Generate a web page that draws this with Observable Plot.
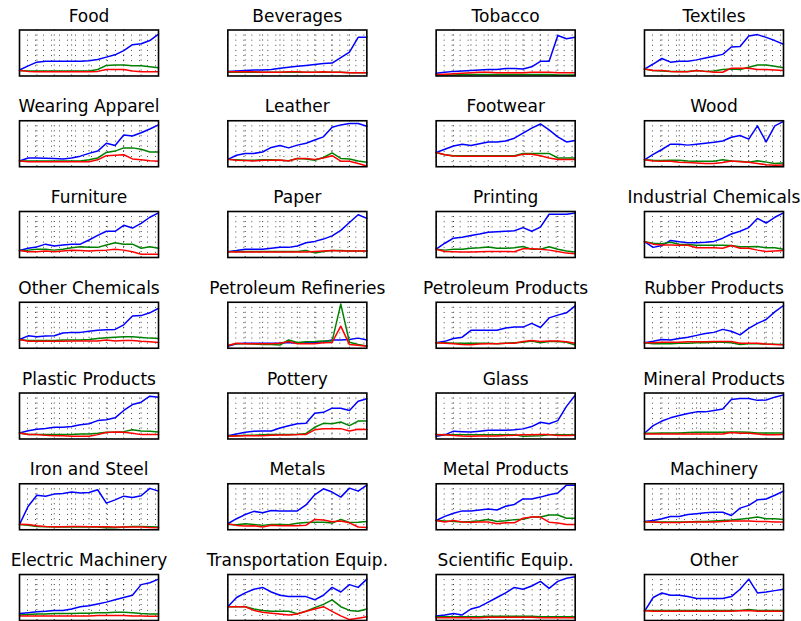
<!DOCTYPE html>
<html>
<head>
<meta charset="utf-8">
<script src="https://cdn.jsdelivr.net/npm/d3@7"></script>
<script src="https://cdn.jsdelivr.net/npm/@observablehq/plot@0.6"></script>
<style>
  html, body { margin: 0; padding: 0; background: #fff; }
  #chart { width: 801px; height: 621px; }
</style>
</head>
<body>
<div id="chart"></div>
<script>
const titles = ["Food","Beverages","Tobacco","Textiles",
  "Wearing Apparel","Leather","Footwear","Wood",
  "Furniture","Paper","Printing","Industrial Chemicals",
  "Other Chemicals","Petroleum Refineries","Petroleum Products","Rubber Products",
  "Plastic Products","Pottery","Glass","Mineral Products",
  "Iron and Steel","Metals","Metal Products","Machinery",
  "Electric Machinery","Transportation Equip.","Scientific Equip.","Other"];

const periods = [1,2,3,4,5,6,7,8,9,10,11,12,13,14,15,16,17];

// blue series, one list per panel (fraction of panel height)
const blue = [
  [0.13,0.22,0.30,0.32,0.32,0.32,0.32,0.32,0.33,0.36,0.41,0.46,0.55,0.68,0.70,0.77,0.91],
  [0.10,0.11,0.12,0.13,0.13,0.14,0.17,0.19,0.21,0.23,0.25,0.27,0.28,0.40,0.52,0.84,0.84],
  [0.06,0.08,0.10,0.11,0.12,0.13,0.14,0.14,0.16,0.16,0.15,0.20,0.32,0.32,0.88,0.81,0.84],
  [0.15,0.26,0.38,0.30,0.32,0.32,0.35,0.39,0.43,0.47,0.63,0.64,0.87,0.90,0.84,0.77,0.69],
  [0.125,0.19,0.19,0.185,0.18,0.17,0.19,0.23,0.29,0.34,0.51,0.46,0.69,0.67,0.74,0.82,0.91],
  [0.16,0.25,0.29,0.29,0.32,0.42,0.46,0.41,0.47,0.51,0.58,0.65,0.86,0.91,0.94,0.94,0.88],
  [0.31,0.38,0.45,0.49,0.46,0.50,0.54,0.54,0.56,0.62,0.73,0.84,0.93,0.80,0.65,0.54,0.57],
  [0.15,0.27,0.375,0.49,0.49,0.47,0.49,0.51,0.53,0.56,0.64,0.68,0.60,0.89,0.54,0.89,0.985],
  [0.15,0.20,0.23,0.29,0.25,0.27,0.29,0.29,0.38,0.48,0.57,0.57,0.70,0.64,0.74,0.875,0.97],
  [0.125,0.15,0.18,0.18,0.18,0.20,0.22,0.22,0.25,0.32,0.35,0.40,0.47,0.59,0.76,0.93,0.85],
  [0.18,0.31,0.42,0.44,0.48,0.51,0.55,0.56,0.57,0.58,0.65,0.57,0.66,0.94,0.94,0.94,0.97],
  [0.345,0.22,0.26,0.37,0.34,0.32,0.32,0.33,0.35,0.42,0.51,0.57,0.65,0.85,0.75,0.875,0.97],
  [0.19,0.27,0.25,0.265,0.27,0.33,0.345,0.345,0.37,0.39,0.40,0.41,0.51,0.70,0.71,0.77,0.87],
  [0.045,0.095,0.11,0.11,0.11,0.11,0.11,0.125,0.11,0.12,0.125,0.14,0.18,0.18,0.19,0.22,0.18],
  [0.12,0.15,0.21,0.24,0.39,0.39,0.39,0.39,0.44,0.46,0.46,0.54,0.45,0.66,0.72,0.77,0.92],
  [0.12,0.15,0.19,0.18,0.21,0.24,0.28,0.32,0.345,0.41,0.37,0.29,0.43,0.54,0.625,0.79,0.93],
  [0.13,0.18,0.21,0.23,0.255,0.255,0.27,0.31,0.33,0.40,0.42,0.46,0.62,0.75,0.80,0.93,0.91],
  [0.07,0.11,0.145,0.17,0.175,0.175,0.24,0.29,0.33,0.34,0.56,0.58,0.67,0.67,0.62,0.82,0.875],
  [0.06,0.09,0.17,0.16,0.15,0.17,0.19,0.19,0.19,0.20,0.22,0.27,0.365,0.33,0.40,0.71,0.95],
  [0.125,0.29,0.39,0.46,0.51,0.555,0.59,0.59,0.62,0.65,0.86,0.88,0.88,0.84,0.85,0.91,0.96],
  [0.115,0.51,0.75,0.73,0.775,0.79,0.82,0.80,0.81,0.87,0.58,0.65,0.73,0.70,0.74,0.90,0.84],
  [0.13,0.24,0.33,0.40,0.37,0.42,0.41,0.41,0.41,0.54,0.76,0.89,0.82,0.71,0.905,0.84,0.97],
  [0.20,0.29,0.36,0.41,0.41,0.43,0.45,0.43,0.51,0.55,0.67,0.67,0.71,0.76,0.80,0.97,0.97],
  [0.18,0.20,0.24,0.29,0.29,0.33,0.35,0.37,0.38,0.38,0.31,0.47,0.53,0.65,0.67,0.75,0.84],
  [0.15,0.17,0.19,0.20,0.22,0.22,0.25,0.30,0.32,0.36,0.40,0.45,0.50,0.55,0.78,0.82,0.90],
  [0.30,0.50,0.60,0.68,0.72,0.62,0.55,0.52,0.52,0.52,0.45,0.55,0.72,0.62,0.78,0.72,0.90],
  [0.10,0.12,0.15,0.12,0.25,0.30,0.40,0.50,0.60,0.72,0.68,0.75,0.85,0.70,0.85,0.92,0.95],
  [0.20,0.50,0.60,0.55,0.55,0.52,0.48,0.48,0.48,0.48,0.52,0.68,0.90,0.60,0.62,0.65,0.68]
];

// green series
const green = [
  [0.12,0.11,0.11,0.11,0.11,0.11,0.11,0.11,0.11,0.14,0.23,0.24,0.24,0.22,0.22,0.20,0.18],
  [0.08,0.08,0.08,0.08,0.08,0.08,0.08,0.08,0.08,0.08,0.08,0.08,0.08,0.08,0.07,0.07,0.07],
  [0.02,0.02,0.02,0.03,0.03,0.03,0.03,0.03,0.03,0.03,0.03,0.03,0.03,0.03,0.02,0.02,0.02],
  [0.15,0.12,0.11,0.10,0.10,0.10,0.12,0.10,0.11,0.14,0.15,0.14,0.19,0.24,0.24,0.21,0.18],
  [0.125,0.125,0.125,0.125,0.125,0.125,0.125,0.125,0.15,0.19,0.31,0.34,0.41,0.41,0.38,0.32,0.32],
  [0.16,0.15,0.14,0.14,0.15,0.15,0.14,0.13,0.18,0.17,0.14,0.20,0.30,0.18,0.17,0.125,0.10],
  [0.31,0.26,0.24,0.24,0.24,0.24,0.24,0.24,0.24,0.24,0.29,0.29,0.29,0.29,0.19,0.19,0.19],
  [0.15,0.14,0.135,0.14,0.14,0.125,0.12,0.12,0.12,0.15,0.125,0.12,0.10,0.13,0.10,0.07,0.08],
  [0.15,0.16,0.18,0.18,0.16,0.18,0.21,0.235,0.22,0.22,0.27,0.32,0.29,0.29,0.20,0.235,0.20],
  [0.125,0.13,0.13,0.13,0.13,0.13,0.13,0.13,0.13,0.15,0.10,0.13,0.15,0.15,0.14,0.14,0.14],
  [0.18,0.16,0.18,0.18,0.20,0.21,0.23,0.20,0.20,0.21,0.24,0.18,0.18,0.235,0.18,0.14,0.12],
  [0.345,0.31,0.30,0.33,0.29,0.28,0.265,0.265,0.265,0.265,0.26,0.235,0.235,0.24,0.21,0.21,0.18],
  [0.19,0.17,0.17,0.17,0.17,0.18,0.18,0.18,0.19,0.21,0.23,0.24,0.25,0.25,0.235,0.22,0.21],
  [0.06,0.10,0.095,0.09,0.08,0.08,0.07,0.18,0.125,0.14,0.145,0.155,0.155,0.96,0.13,0.08,0.05],
  [0.12,0.12,0.11,0.11,0.11,0.11,0.11,0.10,0.11,0.12,0.13,0.155,0.12,0.145,0.145,0.13,0.07],
  [0.12,0.095,0.10,0.10,0.11,0.11,0.12,0.12,0.13,0.13,0.12,0.08,0.10,0.10,0.09,0.085,0.08],
  [0.13,0.10,0.095,0.095,0.10,0.10,0.10,0.11,0.11,0.125,0.145,0.145,0.16,0.20,0.175,0.17,0.15],
  [0.06,0.07,0.08,0.08,0.09,0.095,0.095,0.095,0.10,0.12,0.255,0.34,0.33,0.37,0.29,0.39,0.39],
  [0.095,0.09,0.09,0.09,0.09,0.09,0.09,0.09,0.09,0.09,0.06,0.065,0.07,0.09,0.09,0.09,0.09],
  [0.125,0.125,0.13,0.13,0.13,0.14,0.145,0.145,0.145,0.145,0.15,0.15,0.145,0.13,0.13,0.13,0.13],
  [0.115,0.10,0.07,0.065,0.06,0.06,0.06,0.06,0.06,0.06,0.045,0.045,0.06,0.07,0.07,0.065,0.06],
  [0.115,0.11,0.13,0.115,0.095,0.115,0.115,0.11,0.14,0.16,0.165,0.165,0.145,0.225,0.16,0.165,0.18],
  [0.20,0.19,0.18,0.17,0.18,0.195,0.225,0.18,0.195,0.22,0.23,0.275,0.275,0.32,0.32,0.25,0.25],
  [0.18,0.17,0.167,0.167,0.167,0.17,0.18,0.18,0.19,0.20,0.21,0.23,0.25,0.275,0.24,0.24,0.225],
  [0.12,0.13,0.14,0.14,0.15,0.15,0.15,0.16,0.16,0.17,0.17,0.18,0.18,0.17,0.15,0.14,0.14],
  [0.30,0.30,0.30,0.25,0.22,0.20,0.20,0.20,0.15,0.20,0.28,0.35,0.45,0.30,0.22,0.20,0.25],
  [0.08,0.08,0.08,0.08,0.08,0.08,0.09,0.09,0.09,0.09,0.09,0.09,0.08,0.08,0.08,0.08,0.08],
  [0.22,0.22,0.22,0.22,0.22,0.22,0.22,0.22,0.22,0.22,0.22,0.22,0.24,0.22,0.22,0.22,0.22]
];

// red series
const red = [
  [0.12,0.10,0.09,0.09,0.09,0.09,0.09,0.09,0.09,0.10,0.14,0.14,0.14,0.11,0.09,0.09,0.09],
  [0.09,0.09,0.09,0.09,0.08,0.08,0.08,0.09,0.09,0.08,0.08,0.09,0.08,0.08,0.07,0.07,0.07],
  [0.03,0.04,0.05,0.06,0.07,0.08,0.08,0.07,0.07,0.07,0.07,0.08,0.08,0.08,0.07,0.07,0.07],
  [0.15,0.12,0.12,0.10,0.09,0.09,0.12,0.10,0.08,0.08,0.17,0.17,0.17,0.14,0.14,0.13,0.12],
  [0.125,0.11,0.11,0.11,0.11,0.11,0.11,0.11,0.11,0.15,0.24,0.25,0.26,0.17,0.15,0.13,0.12],
  [0.16,0.14,0.135,0.125,0.14,0.14,0.145,0.125,0.18,0.18,0.16,0.19,0.24,0.12,0.12,0.07,0.015],
  [0.31,0.26,0.235,0.23,0.23,0.23,0.23,0.23,0.23,0.23,0.27,0.27,0.24,0.19,0.155,0.155,0.155],
  [0.15,0.125,0.12,0.12,0.10,0.09,0.08,0.07,0.07,0.09,0.125,0.11,0.095,0.07,0.045,0.03,0.035],
  [0.15,0.125,0.125,0.14,0.125,0.14,0.155,0.15,0.14,0.15,0.16,0.18,0.16,0.125,0.07,0.07,0.07],
  [0.125,0.12,0.12,0.12,0.12,0.12,0.12,0.12,0.12,0.12,0.13,0.14,0.15,0.14,0.14,0.14,0.14],
  [0.18,0.13,0.125,0.12,0.12,0.125,0.13,0.13,0.13,0.125,0.19,0.19,0.18,0.16,0.13,0.095,0.08],
  [0.345,0.29,0.27,0.27,0.265,0.265,0.21,0.21,0.21,0.20,0.26,0.20,0.20,0.16,0.13,0.14,0.15],
  [0.19,0.15,0.15,0.15,0.15,0.15,0.155,0.155,0.155,0.155,0.18,0.16,0.17,0.17,0.15,0.14,0.125],
  [0.06,0.11,0.10,0.10,0.095,0.095,0.11,0.145,0.095,0.095,0.10,0.12,0.125,0.48,0.08,0.065,0.045],
  [0.12,0.11,0.095,0.08,0.075,0.09,0.095,0.095,0.11,0.11,0.145,0.17,0.145,0.16,0.16,0.14,0.11],
  [0.12,0.12,0.13,0.13,0.13,0.14,0.14,0.14,0.145,0.145,0.145,0.11,0.11,0.11,0.09,0.08,0.075],
  [0.13,0.10,0.095,0.08,0.07,0.07,0.06,0.06,0.06,0.095,0.14,0.15,0.145,0.125,0.095,0.095,0.095],
  [0.06,0.065,0.07,0.07,0.07,0.08,0.085,0.085,0.095,0.10,0.20,0.225,0.225,0.225,0.175,0.21,0.205],
  [0.09,0.09,0.075,0.065,0.06,0.065,0.065,0.065,0.075,0.08,0.09,0.09,0.10,0.095,0.075,0.075,0.08],
  [0.11,0.11,0.11,0.11,0.11,0.11,0.11,0.11,0.11,0.11,0.14,0.125,0.125,0.11,0.09,0.09,0.095],
  [0.12,0.115,0.087,0.07,0.065,0.065,0.07,0.07,0.065,0.065,0.065,0.06,0.06,0.06,0.06,0.05,0.045],
  [0.13,0.095,0.08,0.085,0.06,0.10,0.087,0.09,0.087,0.10,0.225,0.21,0.175,0.19,0.15,0.06,0.05],
  [0.20,0.17,0.20,0.17,0.165,0.17,0.17,0.13,0.15,0.15,0.25,0.275,0.275,0.165,0.145,0.115,0.115],
  [0.17,0.17,0.16,0.16,0.16,0.167,0.17,0.17,0.17,0.18,0.19,0.19,0.19,0.18,0.18,0.17,0.17],
  [0.10,0.10,0.10,0.10,0.10,0.10,0.10,0.10,0.10,0.11,0.11,0.11,0.11,0.10,0.10,0.09,0.09],
  [0.30,0.30,0.30,0.22,0.18,0.16,0.14,0.12,0.14,0.20,0.25,0.30,0.20,0.10,0.02,0.05,0.08],
  [0.06,0.06,0.06,0.06,0.06,0.06,0.07,0.07,0.07,0.07,0.07,0.07,0.06,0.06,0.06,0.06,0.06],
  [0.21,0.20,0.20,0.20,0.20,0.20,0.20,0.20,0.20,0.20,0.20,0.21,0.22,0.20,0.20,0.20,0.20]
];

const gridX = [3,5,7,9,11,13,15];
const gridY = [1/9,2/9,3/9,4/9,5/9,6/9,7/9,8/9];

const colors = {blue: "#0000ff", green: "#008000", red: "#ff0000"};
const seriesNames = ["blue","green","red"];
const seriesData = {blue, green, red};

const rows = [];
const titleRows = [];
titles.forEach((t, k) => {
  const col = k % 4, row = Math.floor(k / 4);
  titleRows.push({t, col, row});
  seriesNames.forEach(s => {
    seriesData[s][k].forEach((v, i) => rows.push({t, col, row, s, x: periods[i], y: v}));
  });
});

const lineMarks = seriesNames.map(s => Plot.lineY(rows.filter(d => d.s === s), {
  x: "x", y: "y", fx: "col", fy: "row", z: "t",
  stroke: colors[s], strokeWidth: 1.5
}));

const chart = Plot.plot({
  width: 801,
  height: 621,
  marginLeft: 19,
  marginRight: 18,
  marginTop: 29.5,
  marginBottom: 1,
  style: {fontFamily: "DejaVu Sans", background: "white"},
  fx: {domain: [0,1,2,3], axis: null, paddingInner: 0.3327, paddingOuter: 0, round: false},
  fy: {domain: [0,1,2,3,4,5,6], axis: null, paddingInner: 0.4934, paddingOuter: 0, round: false},
  x: {domain: [1, 17], axis: null},
  y: {domain: [0, 1], axis: null},
  marks: [
    Plot.ruleX(gridX, {stroke: "black", strokeWidth: 1, strokeDasharray: "1,4", strokeOpacity: 0.8}),
    Plot.ruleY(gridY, {stroke: "black", strokeWidth: 1, strokeDasharray: "1,7", strokeOpacity: 0.7}),
    ...lineMarks,
    Plot.frame({stroke: "black", strokeWidth: 1.6}),
    Plot.text(titleRows, {
      fx: "col", fy: "row", text: "t", frameAnchor: "top", lineAnchor: "bottom",
      dy: -8.5, fontSize: 17, fill: "black"
    })
  ]
});
chart.style.overflow = "visible";
document.getElementById("chart").appendChild(chart);
</script>
</body>
</html>
